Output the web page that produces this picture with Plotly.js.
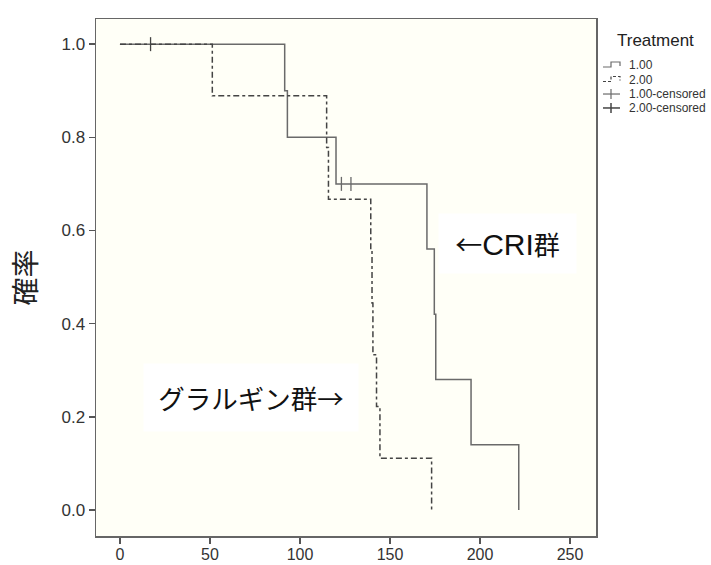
<!DOCTYPE html>
<html>
<head>
<meta charset="utf-8">
<script src="https://cdn.plot.ly/plotly-3.0.1.min.js"></script>
<style>html,body{margin:0;padding:0;background:#fff;}#chart{width:711px;height:565px;}</style>
</head>
<body>
<div id="chart"></div>
<script>
// Treatment 1.00 (CRI group) Kaplan-Meier steps
const t1Times = [0, 91.5, 93, 120, 170.5, 174.6, 175.4, 195, 221.5];
const t1Surv  = [1.0, 0.9, 0.8, 0.7, 0.56, 0.42, 0.28, 0.14, 0.0];
// Treatment 2.00 (glargine group)
const t2Times = [0, 51.3, 114.8, 115.8, 139.3, 140.0, 140.5, 142.5, 144.4, 173.1];
const t2Surv  = [1.0, 0.889, 0.778, 0.667, 0.556, 0.444, 0.333, 0.222, 0.111, 0.0];
// Censored observations
const c1Times = [123, 128.3];
const c1Surv  = [0.7, 0.7];
const c2Times = [17];
const c2Surv  = [1.0];

const legendTitle = 'Treatment';
const seriesNames = ['1.00', '2.00', '1.00-censored', '2.00-censored'];
const xTicks = [0, 50, 100, 150, 200, 250];
const yTicks = [0.0, 0.2, 0.4, 0.6, 0.8, 1.0];

const FONT = 'Liberation Sans, Arial, Noto Sans CJK JP, sans-serif';
const JFONT = 'Noto Sans CJK JP, sans-serif';
const C1 = '#6a6a6a', C2 = '#444444';

const traces = [
  {x: t1Times, y: t1Surv, name: seriesNames[0], mode: 'lines',
   line: {shape: 'hv', color: C1, width: 1.5}},
  {x: t2Times, y: t2Surv, name: seriesNames[1], mode: 'lines',
   line: {shape: 'hv', color: C2, width: 1.5, dash: '6px,3px,3px,3px'}},
  {x: c1Times, y: c1Surv, name: seriesNames[2], mode: 'markers',
   marker: {symbol: 'line-ns', size: 10, line: {width: 1.3, color: C1}}},
  {x: c2Times, y: c2Surv, name: seriesNames[3], mode: 'markers',
   marker: {symbol: 'line-ns', size: 10, line: {width: 1.3, color: C2}}}
];

// plot area in pixels: left 96, right 596, top 19, bottom 536
const PL = 96, PW = 500, PB = 536, PH = 517;
const px = p => (p - PL) / PW;
const py = p => (PB - p) / PH;
const pathOf = pts => pts.map((p, i) => (i ? 'L' : 'M') + px(p[0]).toFixed(4) + ',' + py(p[1]).toFixed(4)).join(' ');

// Custom compact legend (SPSS style)
const rowY = [65, 79.5, 94, 108];
const legendShapes = [
  {type: 'path', xref: 'paper', yref: 'paper', path: pathOf([[603, rowY[0]+2],[611, rowY[0]+2],[611, rowY[0]-3],[620, rowY[0]-3],[620, rowY[0]+1]]),
   line: {color: C1, width: 1.2}},
  {type: 'path', xref: 'paper', yref: 'paper', path: pathOf([[603, rowY[1]+2],[611, rowY[1]+2],[611, rowY[1]-3],[620, rowY[1]-3],[620, rowY[1]+1]]),
   line: {color: C2, width: 1.2, dash: '3px,2px'}},
  {type: 'path', xref: 'paper', yref: 'paper', path: pathOf([[603, rowY[2]],[620, rowY[2]]]), line: {color: C1, width: 1.2}},
  {type: 'path', xref: 'paper', yref: 'paper', path: pathOf([[611, rowY[2]-5],[611, rowY[2]+5]]), line: {color: C1, width: 1.2}},
  {type: 'path', xref: 'paper', yref: 'paper', path: pathOf([[603, rowY[3]],[620, rowY[3]]]), line: {color: C2, width: 1.5}},
  {type: 'path', xref: 'paper', yref: 'paper', path: pathOf([[611, rowY[3]-5],[611, rowY[3]+5]]), line: {color: C2, width: 1.5}}
];
const legendTexts = seriesNames.map((s, i) => ({
  x: px(627), y: py(rowY[i]), xref: 'paper', yref: 'paper', xanchor: 'left', yanchor: 'middle',
  text: s, showarrow: false, font: {family: FONT, size: 12, color: '#333'}
}));
legendTexts.push({
  x: px(655), y: py(41), xref: 'paper', yref: 'paper', xanchor: 'center', yanchor: 'middle',
  text: legendTitle, showarrow: false, font: {family: FONT, size: 17, color: '#222'}
});

const layout = {
  width: 711, height: 565,
  margin: {l: 96, r: 115, t: 19, b: 29, autoexpand: false},
  paper_bgcolor: '#ffffff',
  plot_bgcolor: '#fffff7',
  font: {family: FONT, color: '#333'},
  showlegend: false,
  xaxis: {
    range: [-13.3, 264.4], tickvals: xTicks, ticktext: xTicks.map(String),
    ticks: 'outside', ticklen: 6, tickwidth: 1.5, tickcolor: '#555', ticklabelstandoff: -3,
    showline: true, linecolor: '#666', linewidth: 1.5, mirror: true,
    showgrid: false, zeroline: false, tickfont: {size: 16, color: '#333'}
  },
  yaxis: {
    range: [-0.056, 1.054], tickvals: yTicks, ticktext: yTicks.map(v => v.toFixed(1)),
    ticks: 'outside', ticklen: 6, tickwidth: 1.5, tickcolor: '#555',
    showline: true, linecolor: '#666', linewidth: 1.5, mirror: true,
    showgrid: false, zeroline: false, tickfont: {size: 17, color: '#333'},
    title: {text: '確率', font: {family: JFONT, size: 28, color: '#222'}, standoff: 16}
  },
  shapes: legendShapes,
  annotations: [
    {x: 72.8, y: 0.2414, xref: 'x', yref: 'y', text: 'グラルギン群→', showarrow: false,
     font: {family: JFONT, size: 26.5, color: '#111'}, bgcolor: '#ffffff',
     width: 212, height: 65},
    {x: 215.3, y: 0.572, xref: 'x', yref: 'y',
     text: '<span style="font-family:Noto Sans CJK JP;font-size:27px">←</span>CRI<span style="font-family:Noto Sans CJK JP;font-size:26px">群</span>',
     showarrow: false,
     font: {family: FONT, size: 30, color: '#111'}, bgcolor: '#ffffff',
     width: 135, height: 57}
  ].concat(legendTexts)
};

Plotly.newPlot('chart', traces, layout, {displayModeBar: false, staticPlot: true});
</script>
</body>
</html>
